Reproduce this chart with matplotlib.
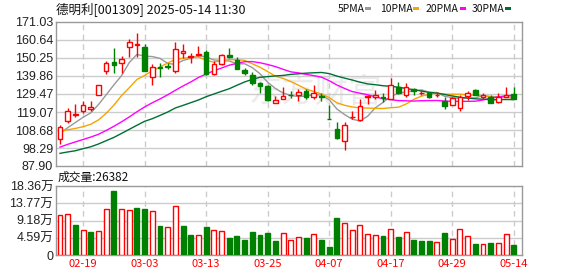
import matplotlib.pyplot as plt
from matplotlib.patches import Rectangle
import numpy as np
import pandas as pd

plt.rcParams['font.family'] = ['Noto Sans CJK SC', 'DejaVu Sans']
plt.rcParams['axes.unicode_minus'] = False

W, H = 578, 276

# 日K数据 (2025-02-14 ~ 2025-05-14)
opens = [103.3, 113.7, 117.3, 119.45, 121.0, 129.07, 142.9, 147.9, 147.2, 156.4,
         157.9, 156.4, 139.1, 145.3, 145.5, 142.9, 153.3, 150.6, 152.2, 153.7,
         141.0, 146.8, 152.2, 149.1, 143.3, 140.6, 135.6, 134.1, 124.4, 126.8,
         129.07, 128.7, 131.4, 127.5, 128.3, 114.8, 109.4, 102.1, 116.0, 114.4,
         127.9, 127.9, 127.5, 126.8, 133.3, 128.7, 132.2, 129.85, 129.85, 128.7,
         125.2, 123.3, 121.4, 128.3, 131.8, 127.9, 127.5, 124.8, 127.9, 129.45]
highs = [111.4, 121.4, 123.7, 125.2, 125.2, 134.5, 148.3, 156.0, 151.4, 161.4,
         164.5, 158.3, 146.8, 147.5, 147.5, 159.5, 158.3, 152.9, 157.2, 154.9,
         148.3, 152.5, 156.0, 150.6, 144.5, 142.1, 136.4, 134.8, 128.3, 133.7,
         131.4, 132.5, 132.2, 134.5, 130.2, 123.3, 113.3, 113.3, 119.45, 126.4,
         128.7, 131.8, 130.2, 138.7, 136.4, 136.0, 132.9, 131.8, 130.6, 130.6,
         127.5, 127.9, 128.7, 131.0, 132.5, 130.2, 128.7, 130.2, 133.7, 133.7]
lows = [100.6, 112.9, 116.4, 118.7, 119.8, 129.07, 141.0, 141.8, 141.4, 150.6,
        151.0, 142.5, 134.8, 139.5, 143.7, 141.8, 150.2, 147.2, 151.4, 140.6,
        140.6, 146.0, 150.2, 143.7, 140.6, 134.5, 129.8, 125.6, 124.1, 126.4,
        127.1, 125.6, 126.8, 126.8, 125.6, 114.75, 103.3, 97.1, 114.8, 114.05,
        123.7, 126.8, 124.8, 126.8, 129.45, 127.5, 128.7, 129.07, 127.1, 127.9,
        120.6, 122.9, 119.45, 126.0, 128.7, 126.4, 124.1, 124.45, 127.5, 126.4]
closes = [110.6, 119.45, 117.7, 123.3, 121.8, 134.5, 147.5, 146.4, 149.9, 159.5,
          158.3, 142.5, 145.2, 144.7, 145.0, 155.2, 154.1, 151.4, 152.5, 141.0,
          146.8, 151.8, 150.6, 144.1, 141.4, 135.6, 134.1, 126.2, 126.0, 128.3,
          128.7, 130.6, 127.9, 129.85, 127.5, 114.75, 104.05, 111.8, 116.4, 122.5,
          128.3, 128.7, 127.1, 134.5, 130.2, 133.3, 131.0, 130.2, 127.9, 129.07,
          122.5, 127.1, 127.9, 129.85, 128.7, 129.07, 124.45, 127.5, 128.7, 126.8]
# 成交量 (手)
volumes = [107000, 109000, 80000, 67000, 60000, 64000, 123000, 170000, 123000, 120000,
           125000, 123000, 117000, 78000, 74000, 130000, 78000, 54000, 54000, 75000,
           66000, 64000, 46000, 51000, 41000, 62000, 54000, 59000, 38000, 59000,
           40600, 47700, 45900, 55600, 40600, 22000, 99000, 85000, 66000, 79000,
           55600, 53000, 51000, 69000, 48500, 61000, 40600, 38000, 38000, 34400,
           59000, 42400, 69000, 50000, 30000, 29000, 32700, 32700, 55600, 26382]

# 窗口前段均线 (历史数据不在图内, 按图读取)
ma5_lead = [106.8, 110.0, 113.0, 116.0]
ma10_lead = [108.0, 108.8, 109.6, 110.6, 112.0, 114.5, 118.3, 123.0, 128.5]
ma20_lead = [98.8, 100.4, 101.8, 103.2, 104.6, 106.2, 108.4, 110.8, 113.4, 116.2,
             119.2, 122.0, 124.4, 126.6, 129.0, 131.6, 134.1, 136.4, 139.0]
ma30_lead = [95.2, 96.0, 96.7, 97.9, 99.0, 100.6, 102.5, 104.4, 106.7, 109.05,
             111.4, 113.7, 115.2, 117.1, 119.05, 121.4, 122.9, 124.45, 126.0, 127.9,
             129.45, 131.0, 132.5, 134.5, 136.4, 137.9, 139.1, 139.5, 139.9]

price_ticks = [87.90, 98.29, 108.68, 119.07, 129.47, 139.86, 150.25, 160.64, 171.03]
vol_ticks = [0, 45900, 91800, 137700, 183600]
tick_idx = [3, 11, 19, 27, 35, 43, 51, 59]
tick_lbl = ['02-19', '03-03', '03-13', '03-25', '04-07', '04-17', '04-29', '05-14']

RED = '#ff0000'
GREEN = '#008000'
MA_COLORS = ['#999999', '#f5a500', '#ff00ff', '#006f35']
GRID = '#cccccc'


def fx(px):
    return px / W


def fy(py):
    return 1 - py / H


cl = pd.Series(closes)


def moving_avg(n, lead):
    m = cl.rolling(n).mean()
    m.iloc[:n - 1] = lead
    return m


fig = plt.figure(figsize=(W / 100, H / 100), dpi=100)
ax = fig.add_axes([fx(56), fy(166), (522 - 56) / W, (166 - 22) / H])
axv = fig.add_axes([fx(56), fy(255), (522 - 56) / W, (255 - 186) / H])

n = len(closes)
x = np.arange(n)

# K线
for i in x:
    o, h, l, c = opens[i], highs[i], lows[i], closes[i]
    up = c >= o
    col = RED if up else GREEN
    ax.vlines(i, l, h, color=col, lw=1, zorder=3)
    ax.add_patch(Rectangle((i - 0.3, min(o, c)), 0.6, max(abs(c - o), 0.35),
                           facecolor='white' if up else col, edgecolor=col,
                           lw=1, zorder=4))

# 均线
for (nd, lead), col in zip([(5, ma5_lead), (10, ma10_lead), (20, ma20_lead), (30, ma30_lead)],
                           MA_COLORS):
    ax.plot(x, moving_avg(nd, lead), color=col, lw=1, zorder=2)

# 成交量
vol_up = [True] + [closes[i] >= closes[i - 1] for i in range(1, n)]
for i in x:
    col = RED if vol_up[i] else GREEN
    axv.add_patch(Rectangle((i - 0.32, 0), 0.64, volumes[i],
                            facecolor='white' if vol_up[i] else col,
                            edgecolor=col, lw=1, zorder=3))

for a in (ax, axv):
    a.set_xlim(-0.52, 60.07)
    for t in tick_idx:
        a.axvline(t, color=GRID, lw=1, ls=(0, (4, 3)), zorder=1)
    a.tick_params(length=0)
    for s in a.spines.values():
        s.set_color('#999999')
        s.set_linewidth(1)

ax.set_ylim(price_ticks[0], price_ticks[-1])
ax.set_yticks(price_ticks)
ax.set_yticklabels([f'{v:.2f}' for v in price_ticks], family='Liberation Sans',
                   fontsize=9, color='#222222')
ax.tick_params(axis='y', pad=2)
ax.set_xticks([])
for v in price_ticks[1:-1]:
    ax.axhline(v, color=GRID, lw=1, zorder=1)

axv.set_ylim(0, vol_ticks[-1])
axv.set_yticks(vol_ticks)
axv.set_yticklabels(['0'] + [f'{v / 10000:.2f}万' for v in vol_ticks[1:]],
                    family=['Liberation Sans', 'Noto Sans CJK SC'], fontsize=9,
                    color='#222222')
axv.tick_params(axis='y', pad=2)
for v in vol_ticks[1:-1]:
    axv.axhline(v, color=GRID, lw=1, zorder=1)
axv.set_xticks(tick_idx)
axv.set_xticklabels(tick_lbl, fontsize=8, color=RED)
axv.tick_params(axis='x', pad=3)

# 水印
ax.text(fx(315), fy(92), '东方财富', transform=fig.transFigure, fontsize=24,
        color='#ebebeb', ha='center', va='center', zorder=0.5)

# 标题与图例
fig.text(fx(56), fy(9), '德明利[001309] 2025-05-14 11:30', fontsize=9,
         ha='left', va='center', color='#111111')
leg_x = [338, 380, 426, 472]
bar_x = [365, 413, 460, 505]
for lbl, lx, bx, col in zip(['5PMA', '10PMA', '20PMA', '30PMA'], leg_x, bar_x, MA_COLORS):
    fig.text(fx(lx), fy(9), lbl, fontsize=7.5, ha='left', va='center', color='#111111')
    fig.add_artist(Rectangle((fx(bx), fy(10)), 6 / W, 3 / H, transform=fig.transFigure,
                             facecolor=col, edgecolor='none'))

fig.text(fx(58), fy(177), '成交量:' + str(volumes[-1]), fontsize=8.5,
         ha='left', va='center', color='#111111')

fig.savefig('out.png', dpi=100)
